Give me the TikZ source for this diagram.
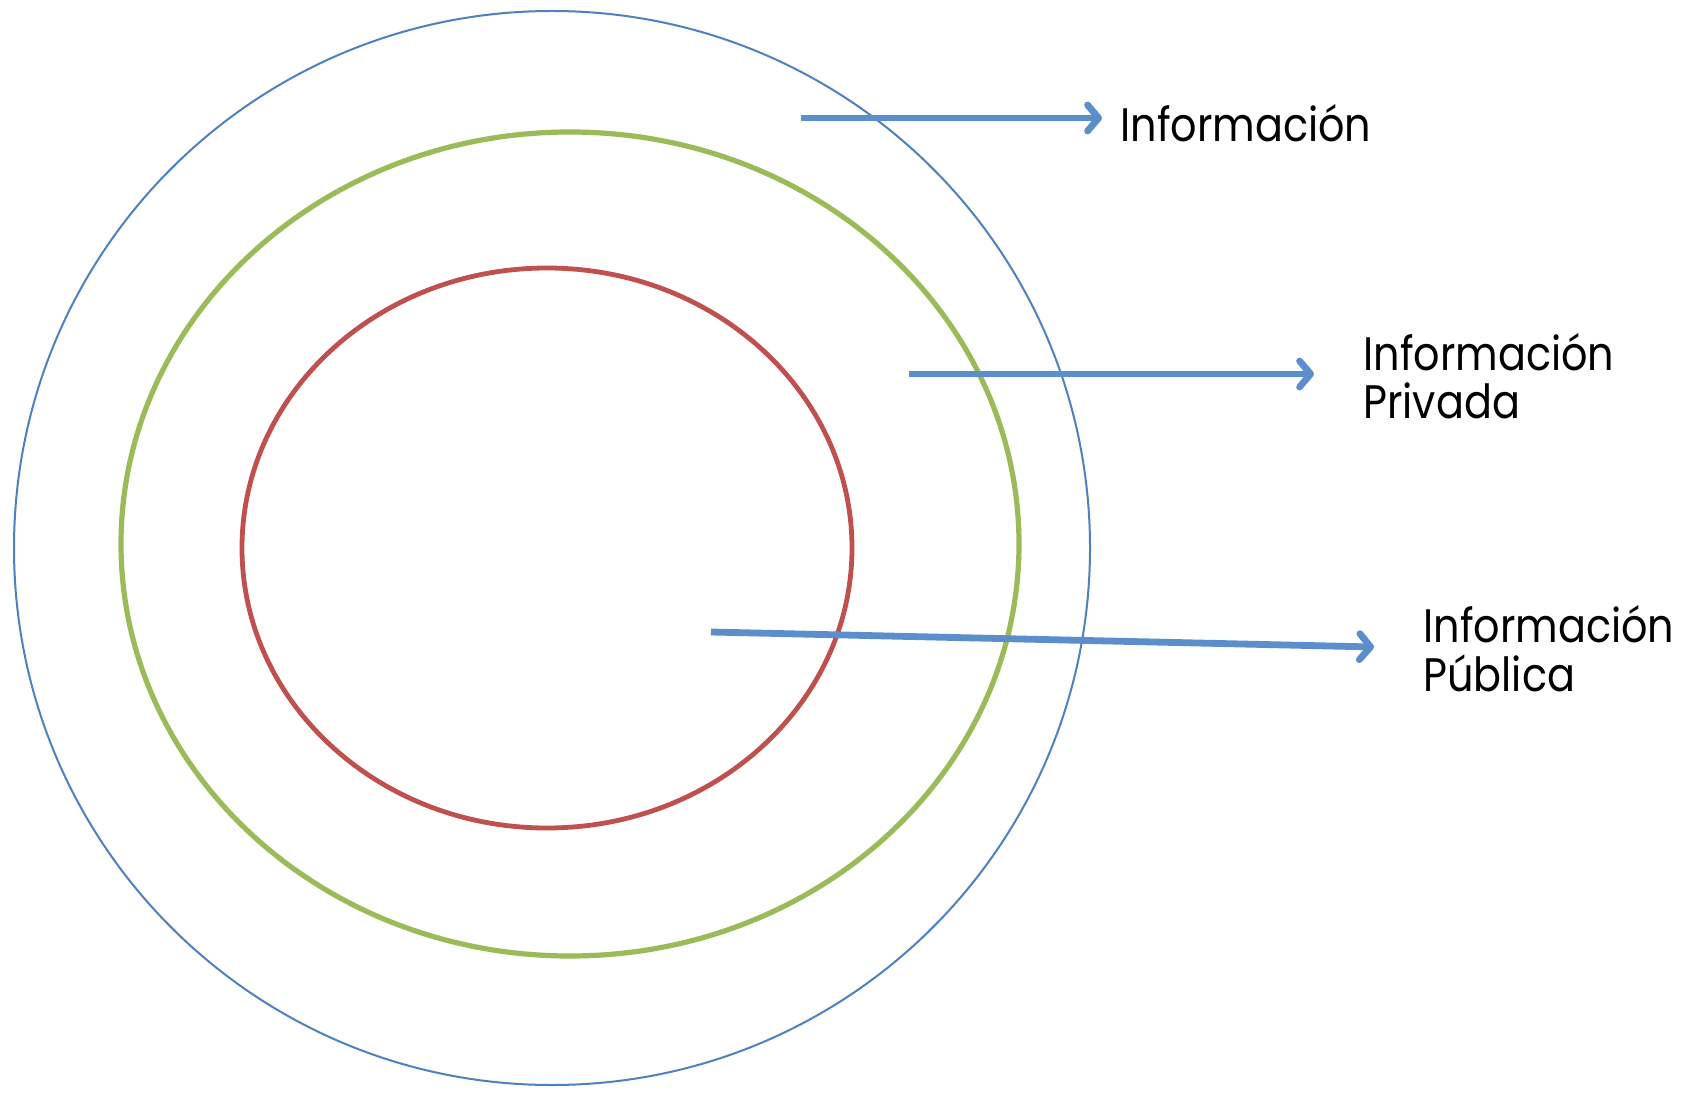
\documentclass[tikz,border=0pt]{standalone}
\usepackage{fontspec}
\newfontfamily\lblfont[FakeStretch=0.88]{Poppins}
\usetikzlibrary{arrows.meta}
\definecolor{outerblue}{HTML}{4F81BD}
\definecolor{ringgreen}{HTML}{9BBB59}
\definecolor{ringred}{HTML}{C0504D}
\definecolor{arrowblue}{HTML}{5A8FCB}
\tikzset{
  ring/.style={line width=#1},
  pointer/.style={draw=arrowblue, line width=3.4pt,
    -{Straight Barb[length=5.5pt,width=13pt,line width=3.4pt,round]}},
  lbl/.style={font=\lblfont\fontsize{23.5}{24.5}\selectfont, inner sep=0pt,
    align=left, text=black}
}
\begin{document}
\begin{tikzpicture}[x=0.5pt,y=-0.5pt]
\useasboundingbox (0,0) rectangle (1686,1096);
\fill[white] (0,0) rectangle (1686,1096);
% rings
\draw[outerblue, ring=1pt] (552,548) ellipse [x radius=538, y radius=537];
\draw[ringgreen, ring=2.6pt] (570,544) ellipse [x radius=449, y radius=412];
\draw[ringred, ring=2.4pt] (547,548) ellipse [x radius=305, y radius=280];
% labels (base = baseline of last line)
\node[lbl, anchor=base west] (info) at (1120,142) {Información};
\node[lbl, anchor=base west] (priv) at (1363,419) {Información\\Privada};
\node[lbl, anchor=base west] (pub) at (1423,691) {Información\\Pública};
% arrow ends
\coordinate (a1s) at (801,118);
\coordinate (a1e) at (1102,118);
\coordinate (a2s) at (909,374);
\coordinate (a2e) at (1314,374);
\coordinate (a3s) at (711,632);
\coordinate (a3e) at (1374,647);
\draw[pointer] (a1s) -- (a1e);
\draw[pointer] (a2s) -- (a2e);
\draw[pointer] (a3s) -- (a3e);
\end{tikzpicture}
\end{document}
